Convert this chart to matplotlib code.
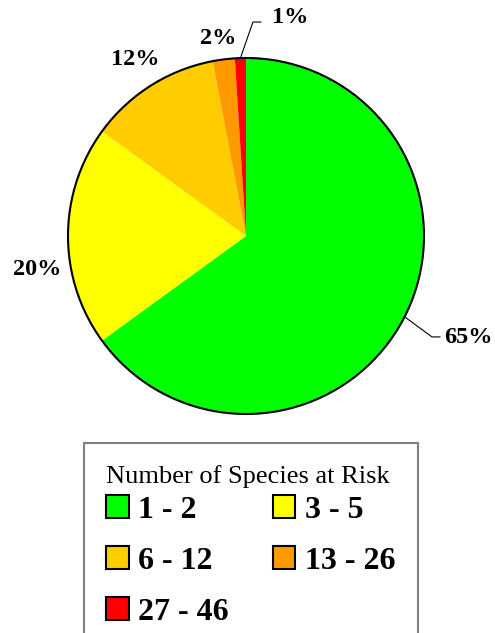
import matplotlib
matplotlib.use("Agg")
import matplotlib.pyplot as plt
from matplotlib.patches import Circle, Patch
from matplotlib.font_manager import FontProperties
import numpy as np

# species-at-risk share per class
categories = ["1 - 2", "3 - 5", "6 - 12", "13 - 26", "27 - 46"]
shares = [65, 20, 12, 2, 1]
colors = ["#00FF00", "#FFFF00", "#FFCC00", "#FF9900", "#FF0000"]

# label centres in pie units (radius = 1)
label_pos = [(1.247, -0.573), (-1.174, -0.191), (-0.624, 0.989),
             (-0.157, 1.112), (0.247, 1.230)]
# elbow/end of leader lines for the labels that have one
leaders = {0: [(1.045, -0.567), (1.090, -0.567)],
           4: [(0.039, 1.202), (0.084, 1.202)]}

W, H = 495, 633
fig = plt.figure(figsize=(W / 100, H / 100), dpi=100)
ax = fig.add_axes([68 / W, 1 - 414 / H, 356 / W, 356 / H])

wedges, _ = ax.pie(shares, colors=colors, startangle=90, counterclock=False,
                   wedgeprops=dict(linewidth=0))
ax.set_xlim(-1, 1)
ax.set_ylim(-1, 1)
ax.set_aspect("equal")
ax.add_patch(Circle((0, 0), 1, fill=False, ec="black", lw=1.5, clip_on=False))

bold = FontProperties(family="Liberation Serif", weight="bold", size=17.5)
for i, (w, v) in enumerate(zip(wedges, shares)):
    lx, ly = label_pos[i]
    ax.text(lx, ly, f"{v}%", ha="center", va="center", fontproperties=bold)
    if i in leaders:
        mid = np.deg2rad((w.theta1 + w.theta2) / 2)
        pts = [(np.cos(mid), np.sin(mid))] + leaders[i]
        xs, ys = zip(*pts)
        ax.plot(xs, ys, color="black", lw=0.8, clip_on=False)

order = [0, 2, 4, 1, 3]
handles = [Patch(fc=colors[i], ec="black", lw=1.5) for i in order]
labels = [categories[i] for i in order]
leg = fig.legend(handles, labels, ncol=2, loc="upper left",
                 bbox_to_anchor=(84 / W, 1 - 443 / H),
                 bbox_transform=fig.transFigure, borderaxespad=0,
                 borderpad=0.7,
                 prop=FontProperties(family="Liberation Serif", weight="bold", size=23),
                 title="Number of Species at Risk",
                 title_fontproperties=FontProperties(family="Liberation Serif", size=19),
                 alignment="left", handlelength=0.7, handleheight=0.7,
                 handletextpad=0.3, columnspacing=1.37, labelspacing=0.68,
                 frameon=True, fancybox=False, edgecolor="#808080", framealpha=1)
leg.get_frame().set_linewidth(1.5)
# tighter gap between the title and the first row of entries
leg._legend_box.sep = 4.9

fig.savefig("out.png", dpi=100)
